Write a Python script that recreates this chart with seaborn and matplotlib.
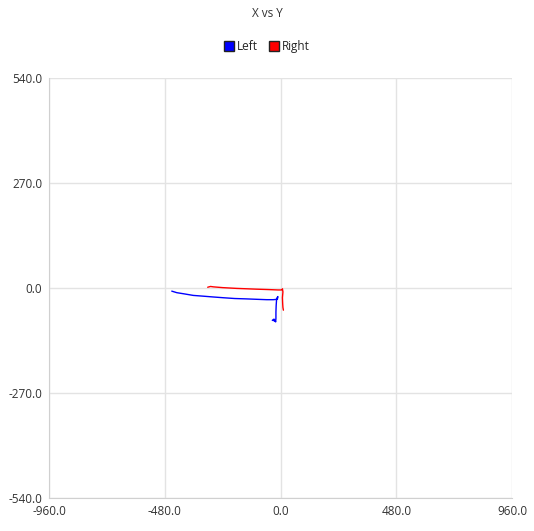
import matplotlib
matplotlib.use("Agg")
import matplotlib.pyplot as plt
import seaborn as sns
import pandas as pd
from matplotlib.lines import Line2D

# gaze traces
left_x = [-451, -430, -400, -362, -320, -280, -237, -190, -140, -100, -57, -30, -13,
          -11, -16, -18, -19, -19, -20, -27, -34, -26, -20]
left_y = [-8, -12, -15, -19, -21, -23, -25, -27, -28, -29, -30, -30, -29,
          -22, -27, -45, -62, -78, -86, -80, -83, -84, -87]
right_x = [-302, -290, -279, -240, -182, -140, -99, -50, -10, 5, 8, 10, 8, 9, 10, 12]
right_y = [2, 4, 3, 1, -1, -2, -3, -4, -5, -5, -2, -10, -25, -40, -50, -57]

x_ticks = [-960, -480, 0, 480, 960]
y_ticks = [-540, -270, 0, 270, 540]

df = pd.concat([
    pd.DataFrame({"x": left_x, "y": left_y, "eye": "Left"}),
    pd.DataFrame({"x": right_x, "y": right_y, "eye": "Right"}),
])

sns.set_style("white")
plt.rcParams['font.family'] = ['Open Sans', 'DejaVu Sans']

fig = plt.figure(figsize=(5.34, 5.31), dpi=100)
ax = fig.add_axes([0.0918, 0.0621, 0.867, 0.791])
sns.lineplot(data=df, x="x", y="y", hue="eye", sort=False, estimator=None,
             units="eye", palette={"Left": "#0000ff", "Right": "#ff0000"},
             linewidth=1, legend=False, ax=ax)

ax.set_xlim(-960, 960)
ax.set_ylim(-540, 540)
ax.set_xticks(x_ticks)
ax.set_yticks(y_ticks)
ax.set_xticklabels([f"{v:.1f}" for v in x_ticks])
ax.set_yticklabels([f"{v:.1f}" for v in y_ticks])
ax.grid(True, color="#e3e3e3", linewidth=1)
ax.set_xlabel("")
ax.set_ylabel("")
for s in ["top", "right"]:
    ax.spines[s].set_visible(False)
for s in ["left", "bottom"]:
    ax.spines[s].set_color("#d0d0d0")
ax.tick_params(axis="both", labelsize=8.5, colors="#333333", length=4, width=1,
               color="#d0d0d0", pad=1)

fig.text(0.5, 0.974, "X vs Y", ha="center", va="center", fontsize=8.5, color="#333333")
handles = [Line2D([], [], marker="s", linestyle="", markersize=6.5,
                  markerfacecolor=c, markeredgecolor="#222222", label=l)
           for c, l in [("#0000ff", "Left"), ("#ff0000", "Right")]]
fig.legend(handles=handles, loc="center", bbox_to_anchor=(0.5, 0.913), ncol=2,
           frameon=False, fontsize=8.5, handletextpad=0.3, columnspacing=0.9,
           handlelength=0.8)

fig.savefig("out.png", dpi=100)
